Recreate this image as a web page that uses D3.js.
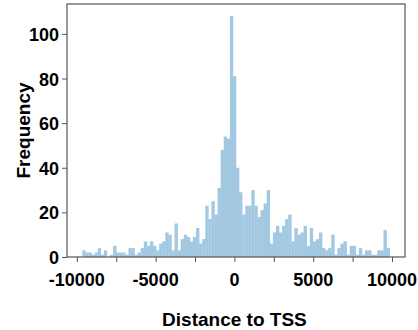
<!DOCTYPE html>
<html>
<head>
<meta charset="utf-8">
<script src="https://cdn.jsdelivr.net/npm/d3@7"></script>
<style>
  body { margin: 0; background: #fff; }
  svg text { font-family: "Liberation Sans", Arial, sans-serif; font-weight: bold; fill: #000; }
</style>
</head>
<body>
<div id="chart"></div>
<script>
// histogram of distance to TSS, 100 bins
const binStart = -9650;
const binWidth = 195;
const counts = [
  3, 2, 2, 1, 2, 4, 1, 3, 0, 1,
  5, 2, 2, 2, 1, 4, 4, 1, 2, 4,
  7, 5, 7, 5, 3, 6, 7, 11, 10, 3,
  15, 3, 8, 10, 9, 7, 9, 13, 6, 8,
  23, 17, 25, 19, 31, 48, 54, 53, 108, 81,
  40, 29, 19, 23, 23, 30, 23, 18, 21, 24,
  30, 6, 11, 14, 11, 14, 17, 19, 7, 13,
  10, 11, 14, 5, 13, 7, 8, 11, 4, 3,
  4, 10, 1, 4, 6, 7, 1, 5, 5, 1,
  4, 1, 3, 3, 1, 1, 3, 3, 12, 4
];
const xTicks = [-10000, -5000, 0, 5000, 10000];
const xMinorTicks = [-10000, -7500, -5000, -2500, 0, 2500, 5000, 7500, 10000];
const yTicks = [0, 20, 40, 60, 80, 100];

const W = 418, H = 330;
const margin = {top: 4, right: 13, bottom: 73, left: 67};
const width = W - margin.left - margin.right;
const height = H - margin.top - margin.bottom;

const bins = counts.map((c, i) => ({x0: binStart + i * binWidth, x1: binStart + (i + 1) * binWidth, n: c}));
const span = bins[bins.length - 1].x1 - bins[0].x0;

const svg = d3.select('#chart').append('svg')
  .attr('width', W)
  .attr('height', H);
const g = svg.append('g')
  .attr('transform', `translate(${margin.left},${margin.top})`);

const x = d3.scaleLinear()
  .domain([bins[0].x0 - span * 0.05, bins[bins.length - 1].x1 + span * 0.05])
  .range([0, width]);
const y = d3.scaleLinear()
  .domain([0, d3.max(counts) * 1.05])
  .range([height, 0]);

g.selectAll('rect.bar')
  .data(bins)
  .enter()
  .append('rect')
  .attr('class', 'bar')
  .attr('x', d => x(d.x0))
  .attr('width', d => x(d.x1) - x(d.x0) + 0.3)
  .attr('y', d => y(d.n))
  .attr('height', d => height - y(d.n))
  .attr('fill', '#a3c8e2');

// frame
g.append('rect')
  .attr('width', width)
  .attr('height', height)
  .attr('fill', 'none')
  .attr('stroke', '#555')
  .attr('stroke-width', 1.2);

// x axis
const xAxis = g.append('g').attr('transform', `translate(0,${height})`);
xAxis.call(d3.axisBottom(x).tickValues(xMinorTicks).tickSize(5).tickFormat(''));
xAxis.select('.domain').remove();
xAxis.selectAll('line').attr('stroke', '#555');
xAxis.selectAll('text.lab')
  .data(xTicks)
  .enter()
  .append('text')
  .attr('class', 'lab')
  .attr('x', d => x(d))
  .attr('y', 29)
  .attr('text-anchor', 'middle')
  .style('font-size', '18px')
  .text(d => d);

// y axis
const yAxis = g.append('g');
yAxis.call(d3.axisLeft(y).tickValues(yTicks).tickSize(5).tickPadding(3));
yAxis.select('.domain').remove();
yAxis.selectAll('line').attr('stroke', '#555');
yAxis.selectAll('text')
  .style('font-size', '18px')
  .attr('dy', '0.36em');

svg.append('text')
  .attr('x', margin.left + x(0))
  .attr('y', 326)
  .attr('text-anchor', 'middle')
  .style('font-size', '19px')
  .text('Distance to TSS');

svg.append('text')
  .attr('transform', `translate(30,${margin.top + height / 2}) rotate(-90)`)
  .attr('text-anchor', 'middle')
  .style('font-size', '19px')
  .text('Frequency');
</script>
</body>
</html>
